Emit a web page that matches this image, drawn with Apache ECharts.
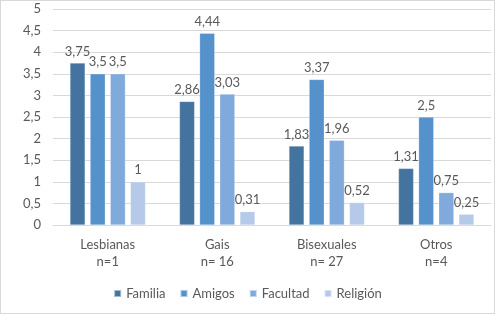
<!DOCTYPE html>
<html>
<head>
<meta charset="utf-8">
<script src="https://cdn.jsdelivr.net/npm/echarts@6/dist/echarts.min.js"></script>
<style>
  html, body { margin: 0; padding: 0; background: #fff; }
  #chart { width: 493px; height: 312px; border: 1px solid #d9d9d9; }
</style>
</head>
<body>
<div id="chart"></div>
<script>
// categories (two-line labels)
const categories = ['Lesbianas\nn=1', 'Gais\nn= 16', 'Bisexuales\nn= 27', 'Otros\nn=4']
const seriesNames = ['Familia', 'Amigos', 'Facultad', 'Religión']
const familia = [3.75, 2.86, 1.83, 1.31]
const amigos = [3.5, 4.44, 3.37, 2.5]
const facultad = [3.5, 3.03, 1.96, 0.75]
const religion = [1, 0.31, 0.52, 0.25]
const colors = ['#44739f', '#5591ca', '#80aadb', '#b5cae8']

const fmt = (v) => String(v).replace('.', ',')
const font = 'Lato, "Open Sans", sans-serif'
const textColor = '#595959'

const chart = echarts.init(document.getElementById('chart'))

const seriesData = [familia, amigos, facultad, religion]
const series = seriesNames.map((name, i) => ({
  name,
  type: 'bar',
  data: seriesData[i],
  barGap: '33%',
  barCategoryGap: '31%',
  itemStyle: { color: colors[i], borderColor: 'rgba(255,255,255,0.5)', borderWidth: 0.5 },
  label: {
    show: true,
    position: 'top',
    distance: 5,
    color: textColor,
    fontFamily: font,
    fontSize: 13,
    formatter: (p) => fmt(p.value)
  }
}))

chart.setOption({
  animation: false,
  textStyle: { fontFamily: font },
  grid: { left: 52, right: 3, top: 8, bottom: 88, containLabel: false },
  legend: {
    bottom: 8,
    left: 'center',
    itemWidth: 7,
    itemHeight: 7,
    itemGap: 14,
    icon: 'rect',
    textStyle: { color: textColor, fontSize: 13, fontFamily: font },
    data: seriesNames
  },
  xAxis: {
    type: 'category',
    data: categories,
    axisLine: { lineStyle: { color: '#d9d9d9', width: 1 } },
    axisTick: { show: false },
    axisLabel: { color: textColor, fontSize: 13, fontFamily: font, lineHeight: 17, margin: 11 }
  },
  yAxis: {
    type: 'value',
    min: 0,
    max: 5,
    interval: 0.5,
    axisLine: { show: false },
    axisTick: { show: false },
    splitLine: { lineStyle: { color: '#d9d9d9', width: 1 } },
    axisLabel: { color: textColor, fontSize: 13, fontFamily: font, margin: 12, formatter: (v) => fmt(v) }
  },
  series
})
</script>
</body>
</html>
